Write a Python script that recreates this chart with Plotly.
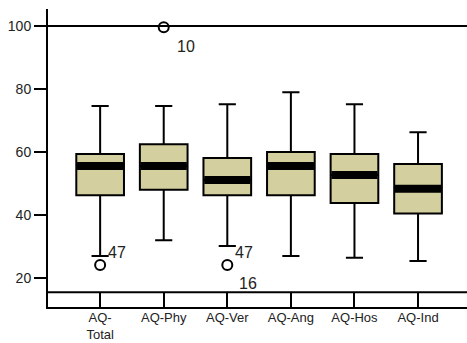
import plotly.graph_objects as go

categories = ["AQ-Total", "AQ-Phy", "AQ-Ver", "AQ-Ang", "AQ-Hos", "AQ-Ind"]
tick_labels = ["AQ-<br>Total", "AQ-Phy", "AQ-Ver", "AQ-Ang", "AQ-Hos", "AQ-Ind"]
lower_whisker = [27.0, 32.0, 30.2, 27.0, 26.4, 25.4]
q1 = [46.3, 48.0, 46.3, 46.3, 43.8, 40.5]
median = [55.6, 55.6, 51.1, 55.6, 52.7, 48.3]
q3 = [59.4, 62.5, 58.1, 60.0, 59.4, 56.2]
upper_whisker = [74.6, 74.6, 75.2, 79.0, 75.2, 66.3]

outlier_cat = ["AQ-Total", "AQ-Phy", "AQ-Ver"]
outlier_val = [24.1, 99.6, 24.1]
outlier_labels = [["47"], ["10"], ["47", "16"]]

fill = "#D4CF9E"
fig = go.Figure()
fig.add_trace(go.Box(
    x=categories, q1=q1, median=median, q3=q3,
    lowerfence=lower_whisker, upperfence=upper_whisker,
    fillcolor=fill, line=dict(color="black", width=2),
    width=0.75, whiskerwidth=0.36, boxpoints=False, showlegend=False,
    hoverinfo="skip",
))
# thick median bars
fig.add_trace(go.Scatter(
    x=categories, y=median, mode="markers", showlegend=False,
    marker=dict(symbol="line-ew", size=33, color="black",
                line=dict(color="black", width=8)),
    hoverinfo="skip",
))
fig.add_trace(go.Scatter(
    x=outlier_cat, y=outlier_val, mode="markers", showlegend=False,
    marker=dict(symbol="circle-open", size=10, color="black",
                line=dict(color="black", width=2)),
    hoverinfo="skip",
))

label_offsets = {"47": (6, 13), "10": (11, -19), "16": (10, -18)}
for c, v, labs in zip(outlier_cat, outlier_val, outlier_labels):
    for lab in labs:
        dx, dy = label_offsets[lab]
        fig.add_annotation(x=c, y=v, text=lab, showarrow=False,
                           xanchor="left", yanchor="middle", xshift=dx, yshift=dy,
                           font=dict(size=16, color="#222", family="Liberation Sans"))

# reference lines
fig.add_shape(type="line", xref="paper", yref="y", x0=0, x1=1, y0=100, y1=100,
              line=dict(color="black", width=2))
fig.add_shape(type="line", xref="paper", yref="y", x0=0, x1=1, y0=15.5, y1=15.5,
              line=dict(color="black", width=2))

fig.update_layout(
    width=467, height=343,
    margin=dict(l=48, r=0, t=9, b=36),
    paper_bgcolor="white", plot_bgcolor="white",
    font=dict(family="Liberation Sans", color="#222"),
    xaxis=dict(
        type="category", categoryorder="array", categoryarray=categories,
        tickmode="array", tickvals=categories, ticktext=tick_labels,
        range=[-0.82, 5.77], showgrid=False, zeroline=False,
        showline=True, linecolor="black", linewidth=2,
        ticks="inside", ticklen=15, tickwidth=2, tickcolor="black",
        tickfont=dict(size=13), automargin=False, ticklabelstandoff=-3,
    ),
    yaxis=dict(
        range=[10.8, 105.4], tickvals=[20, 40, 60, 80, 100],
        showgrid=False, zeroline=False,
        showline=True, linecolor="black", linewidth=2,
        ticks="outside", ticklen=12, tickwidth=2, tickcolor="black",
        tickfont=dict(size=14), automargin=False,
    ),
)
fig.write_html("out.html")
